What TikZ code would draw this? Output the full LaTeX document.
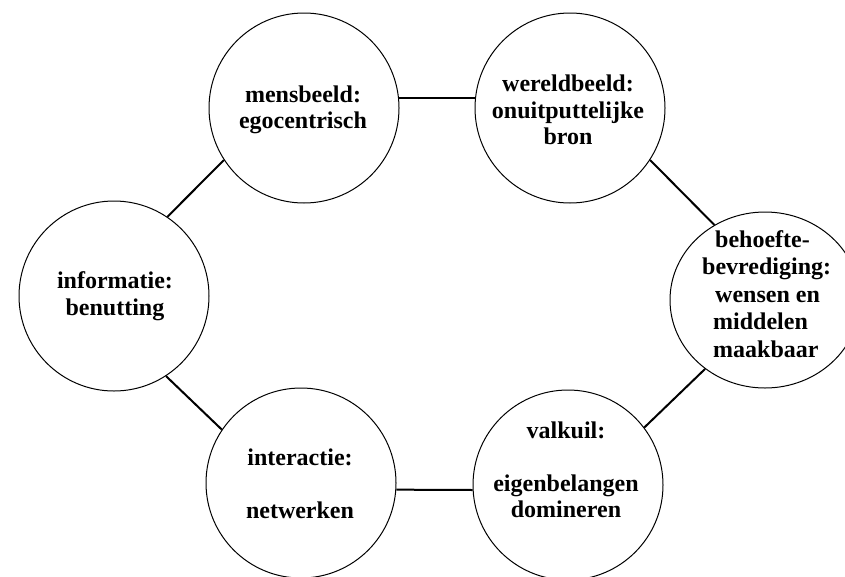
\documentclass[tikz,border=0pt]{standalone}
\usepackage{fontspec}
\setmainfont{Liberation Serif}
\usetikzlibrary{shapes.geometric}

\tikzset{
  ball/.style={draw=black, line width=1pt, circle, inner sep=0pt, minimum size=190pt},
  oval/.style={draw=black, line width=1pt, ellipse, inner sep=0pt, minimum width=190pt, minimum height=176pt},
  lbl/.style={inner sep=0pt, align=center, font=\bfseries\fontsize{24}{26.5}\selectfont},
  link/.style={draw=black, line width=2pt},
}

\begin{document}
\begin{tikzpicture}[x=1pt, y=-1pt]
  \useasboundingbox (0,0) rectangle (845,576);
  \fill[white] (0,0) rectangle (845,576);

  % the six circles
  \node[ball] (mens)  at (304,108) {};
  \node[ball] (wereld) at (570,108) {};
  \node[ball] (info)  at (114,296) {};
  \node[oval] (behoefte) at (765,300) {};
  \node[ball] (inter) at (301,483) {};
  \node[ball] (valk)  at (568,485) {};

  % their texts
  \node[lbl] (mensT) at (303,110) {mensbeeld:\\egocentrisch};
  \node[lbl] (wereldT) at (568,110) {wereldbeeld:\\onuitputtelijke\\bron};
  \node[lbl] (infoT) at (115,296) {informatie:\\benutting};
  \node[lbl, align=left, anchor=west, font=\bfseries\fontsize{24}{27.5}\selectfont]
    (behoefteT) at (702,294)
    {\hspace*{13pt}behoefte-\\bevrediging:\\\hspace*{13pt}wensen en\\\hspace*{11pt}middelen\\\hspace*{11pt}maakbaar};
  \node[lbl] (interT) at (300,484) {interactie:\\[26.5pt]netwerken};
  \node[lbl] (valkT) at (566,470) {valkuil:\\[26.5pt]eigenbelangen\\domineren};

  % connectors around the ring
  \draw[link] (mens.6) -- (wereld.174);
  \draw[link] (wereld.-33.4) -- (behoefte.124);
  \draw[link] (behoefte.-131.4) -- (valk.37);
  \draw[link] (valk.183) -- (inter.-4.2);
  \draw[link] (inter.146) -- (info.-57.3);
  \draw[link] (info.56) -- (mens.213.7);
\end{tikzpicture}
\end{document}
